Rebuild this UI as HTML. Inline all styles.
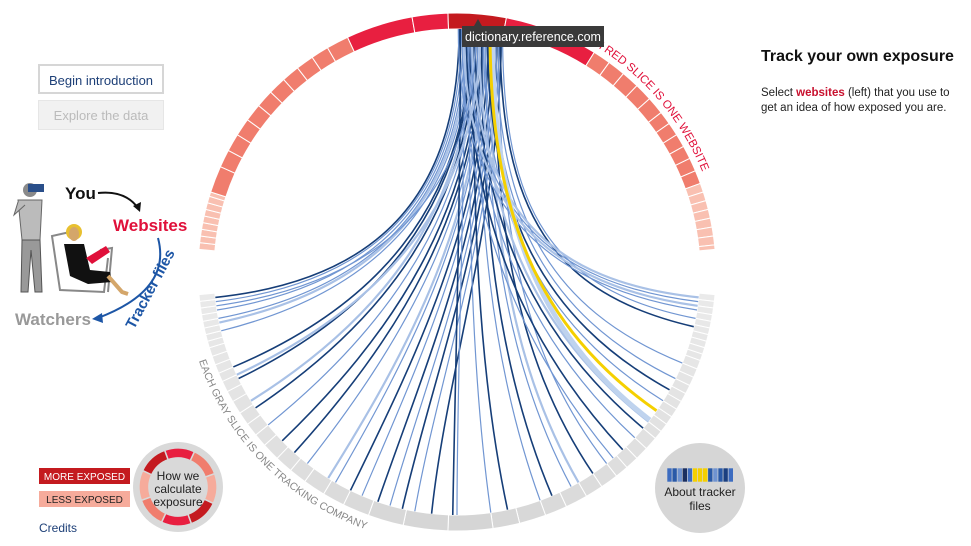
<!DOCTYPE html>
<html><head><meta charset="utf-8">
<style>
body{margin:0;width:971px;height:546px;background:#fff;font-family:"Liberation Sans",sans-serif;overflow:hidden;position:relative}
.btn{position:absolute;left:38px;width:126px;height:30px;box-sizing:border-box;font-size:13px;line-height:30px;text-align:center}
</style></head><body>
<div class="btn" style="top:64px;border:2px solid #d6d6d6;color:#1d3f77">Begin introduction</div>
<div class="btn" style="top:100px;background:#f1f1f1;border:1px solid #e6e6e6;color:#bbb">Explore the data</div>

<div style="position:absolute;left:761px;top:48px;font-size:16px;font-weight:bold;color:#111">Track your own exposure</div>
<div style="position:absolute;left:761px;top:86px;font-size:11.5px;line-height:15px;color:#222;width:200px">Select <b style="color:#c8102e">websites</b> (left) that you use to get an idea of how exposed you are.</div>

<svg id="chart" width="971" height="546" style="position:absolute;left:0;top:0">
<g id="ill">
 <circle cx="30" cy="190" r="7" fill="#8a8a8a"/>
 <rect x="28" y="184" width="16" height="8" fill="#2a4f8a"/>
 <path d="M18 200 L42 200 L40 240 L22 240 Z" fill="#bbb" stroke="#666" stroke-width="1"/>
 <path d="M22 240 L40 240 L42 292 L35 292 L31 250 L28 292 L21 292 Z" fill="#999" stroke="#555" stroke-width="1"/>
 <path d="M18 202 L14 215 L25 205" fill="#bbb" stroke="#666"/>
 <path d="M52 236 L60 290 L104 292 L108 258 M60 290 L52 236 L70 232 M100 250 L112 248 L108 292" fill="none" stroke="#888" stroke-width="2"/>
 <circle cx="74" cy="232" r="8" fill="#e8c030"/>
 <ellipse cx="74" cy="234" rx="5" ry="7" fill="#d4a66a"/>
 <path d="M64 244 L84 244 L90 270 L110 272 L112 282 L88 284 L70 276 Z" fill="#111"/>
 <path d="M86 258 L106 246 L110 252 L92 264 Z" fill="#e0103a"/>
 <path d="M108 276 L122 292 L128 294" fill="none" stroke="#d4a66a" stroke-width="4"/>
 <text x="65" y="199" font-size="17" font-weight="bold" fill="#111">You</text>
 <path d="M98 193 Q125 190 138 208" fill="none" stroke="#111" stroke-width="2"/>
 <path d="M133 206 L140 212 L141 202 Z" fill="#111"/>
 <text x="113" y="231" font-size="17" font-weight="bold" fill="#e0103a">Websites</text>
 <path d="M158 238 Q172 290 98 318" fill="none" stroke="#1d56a6" stroke-width="2"/>
 <path d="M102 313 L92 319 L103 323 Z" fill="#1d56a6"/>
 <text transform="translate(134,330) rotate(-62)" font-size="15" font-weight="bold" fill="#1d56a6">Tracker files</text>
 <text x="15" y="325" font-size="17" font-weight="bold" fill="#999">Watchers</text>
</g>
<g id="ring"></g>
<g id="chords"></g>
<g id="labels"></g>
<rect x="39" y="468" width="91" height="16" fill="#c41a1f"/>
<text x="84.5" y="480" font-size="10" fill="#fff" text-anchor="middle">MORE EXPOSED</text>
<rect x="39" y="491" width="91" height="16" fill="#f6ab9b"/>
<text x="84.5" y="503" font-size="10" fill="#222" text-anchor="middle">LESS EXPOSED</text>
<text x="39" y="532" font-size="12" fill="#1d3f77">Credits</text>
<g>
 <circle cx="178" cy="487" r="45" fill="#d9d9d9"/>
 <g id="miniring"></g>
 <circle cx="178" cy="487" r="29" fill="#d9d9d9"/>
 <text x="178" y="480" font-size="12" fill="#222" text-anchor="middle">How we</text>
 <text x="178" y="493" font-size="12" fill="#222" text-anchor="middle">calculate</text>
 <text x="178" y="506" font-size="12" fill="#222" text-anchor="middle">exposure</text>
</g>
<g>
 <circle cx="700" cy="488" r="45" fill="#d6d6d6"/>
 <g id="barcode"></g>
 <text x="700" y="496" font-size="12" fill="#222" text-anchor="middle">About tracker</text>
 <text x="700" y="510" font-size="12" fill="#222" text-anchor="middle">files</text>
</g>
<g id="tip">
 <rect x="462" y="26" width="142" height="21" fill="#3a3a3a"/>
 <path d="M474 26 L478 19 L482 26 Z" fill="#3a3a3a"/>
 <text x="533" y="41" font-size="12.5" fill="#fff" text-anchor="middle">dictionary.reference.com</text>
</g>
</svg>
<script>
const NS="http://www.w3.org/2000/svg";
const CX=457,CY=272,RO=259,RI=243;
const siteStarts=[-85,-83.5,-82,-80.5,-79,-77.5,-76,-74.5,-73,-72,-66,-62,-58,-54,-50,-46,-42,-38,-34,-30,-25,-10,-2,11,22,32,36,40,44,48,52,55,58,61,64,67,70,72,74,76,78,80,82,84];
const siteClass=[3,3,3,3,3,3,3,3,3,2,2,2,2,2,2,2,2,2,2,2,1,1,0,1,1,2,2,2,2,2,2,2,2,2,2,2,3,3,3,3,3,3,3,3];
const siteEnd=85;
const compStarts=[95,96.5,98,99.5,101,102.5,104,105.5,107,108.5,110,112,114,116,118,120,122,124,126,128,130,133,136,139,142,146,150,155,160,166,172,182,192,200,206,211,216,220,224,228,231,234,237,240,242.5,245,247,249,251,253,254.5,256,257.5,259,260.5,262,263.5];
const compEnd=265;
const chordSrc=[0.5,1,1.5,2,2.5,3,3.3,3.6,4,4.5,5,5.5,6,6.3,6.6,7,7.5,8,8.5,9,9.5,10,10.5,0.8,1.8,2.8,3.8,4.8,5.8,6.8,7.8,8.8,9.8,1.2,2.2,3.2,4.2,5.2,6.2,7.2,8.2,9.2,10.2,10.8,0.3,1.5,2.5,3.5,4.5,5.5];
const chordTgt=[264,263,261,259,258,256,247,244,238,236,231,226,222,218,212,210,206,203,199,196,193,190,186,181,180,172,168,160,157,152,150,146,142,140,137,133,130,128,122,119,116,112,103,101,99,98,97,96,262,245];
const chordType=[0,1,1,1,2,1,0,0,2,0,1,0,0,1,2,1,0,1,0,1,0,1,0,0,1,1,0,1,0,1,2,0,1,1,0,1,0,2,1,0,1,1,0,1,1,2,1,2,1,2];
const highlightSrc=7.8, highlightTgt=124.8, paleSrc=8.4, paleTgt=127.5;

function pt(a,r){const t=a*Math.PI/180;return [CX+r*Math.sin(t),CY-r*Math.cos(t)];}
function sector(a0,a1,r0,r1){const p0=pt(a0,r1),p1=pt(a1,r1),p2=pt(a1,r0),p3=pt(a0,r0);const l=(a1-a0)>180?1:0;
 return `M${p0[0]},${p0[1]}A${r1},${r1} 0 ${l} 1 ${p1[0]},${p1[1]}L${p2[0]},${p2[1]}A${r0},${r0} 0 ${l} 0 ${p3[0]},${p3[1]}Z`;}
function mk(tag,attrs,parent){const e=document.createElementNS(NS,tag);for(const k in attrs)e.setAttribute(k,attrs[k]);parent.appendChild(e);return e;}
const ring=document.getElementById('ring');
const siteCols=['#c41a1f','#e81f40','#f07d6d','#f9c0b1'];
siteStarts.forEach((s,i)=>{const e=i+1<siteStarts.length?siteStarts[i+1]:siteEnd;
 const p=mk('path',{d:sector(s,e,RI,RO),fill:siteCols[siteClass[i]],stroke:'#fff','stroke-width':1},ring);
 
 });
compStarts.forEach((s,i)=>{const e=i+1<compStarts.length?compStarts[i+1]:compEnd;
 const m=(s+e)/2, d=Math.abs(m-180);const g=Math.round(212+ Math.min(1,d/85)*22);
 const p=mk('path',{d:sector(s,e,RI,RO),fill:`rgb(${g},${g},${g})`,stroke:'#fff','stroke-width':1},ring);
 
 });
const chords=document.getElementById('chords');
const cCol=['#163e78','#7196d2','#a9c1e6'],cW=[1.6,1.2,2.2];
function chord(a,b,col,w,parent){const p0=pt(a,RI),p1=pt(b,RI);
 const c1=[p0[0],CY-60];const c2=pt(b,RI*0.4);
 return mk('path',{d:`M${p0[0]},${p0[1]}C${c1[0]},${c1[1]} ${c2[0]},${c2[1]} ${p1[0]},${p1[1]}`,fill:'none',stroke:col,'stroke-width':w},parent);}
chordSrc.forEach((s,i)=>{const p=chord(s,chordTgt[i],cCol[chordType[i]],cW[chordType[i]],chords);
 
 });
const pale=chord(paleSrc,paleTgt,'#bfd3ee',5,chords);


const hl=chord(highlightSrc,highlightTgt,'#f5d000',3,chords);


const lab=document.getElementById('labels');
const defs=mk('defs',{},lab);
let a=pt(26,265),b=pt(82,265);
mk('path',{id:'redp',d:`M${a[0]},${a[1]}A265,265 0 0 1 ${b[0]},${b[1]}`},defs);
a=pt(251,273);b=pt(185,273);
mk('path',{id:'grayp',d:`M${a[0]},${a[1]}A273,273 0 0 0 ${b[0]},${b[1]}`},defs);
let t=mk('text',{'font-size':11.5,fill:'#e0103a'},lab);


let tp=mk('textPath',{href:'#redp'},t);tp.textContent='EACH RED SLICE IS ONE WEBSITE';
t=mk('text',{'font-size':10.5,fill:'#888'},lab);


tp=mk('textPath',{href:'#grayp'},t);tp.textContent='EACH GRAY SLICE IS ONE TRACKING COMPANY';
const mr=document.getElementById('miniring');
const miniCols=['#e81f40','#f07d6d','#f6ab9b','#c41a1f','#e81f40','#f07d6d','#f6ab9b','#c41a1f'];
miniCols.forEach((c,i)=>{const s=i*45-20;
 const f=(ang,r)=>{const q=ang*Math.PI/180;return [178+r*Math.sin(q),487-r*Math.cos(q)];};
 const p0=f(s,39),p1=f(s+45,39),p2=f(s+45,29),p3=f(s,29);
 mk('path',{d:`M${p0}A39,39 0 0 1 ${p1}L${p2}A29,29 0 0 0 ${p3}Z`,fill:c,stroke:'#d9d9d9','stroke-width':1.5},mr);});
const bc=document.getElementById('barcode');
const barCols=['#3d6cc0','#2a5aa8','#6f93d0','#1a2f60','#3d6cc0','#f5d000','#f5d000','#f5d000','#2a5aa8','#6f93d0','#2a5aa8','#1a3f80','#3d6cc0'];
barCols.forEach((c,i)=>{mk('rect',{x:667+i*5.1,y:468,width:5.1,height:14,fill:c,stroke:'#d6d6d6','stroke-width':0.6},bc);});
</script>
</body></html>
